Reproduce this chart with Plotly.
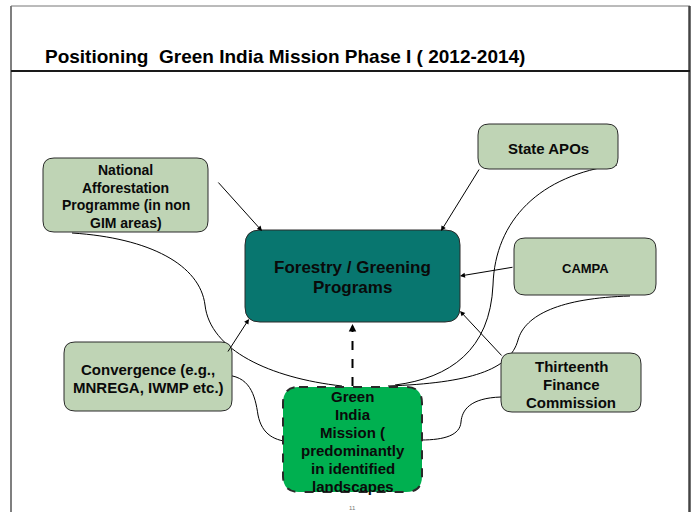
import plotly.graph_objects as go

# ---------------- data ----------------
TITLE = "Positioning  Green India Mission Phase I ( 2012-2014)"
PAGE_NUMBER = "11"

node_ids = ["na", "apo", "forestry", "campa", "conv", "tfc", "gim"]
node_labels = [
    "National<br>Afforestation<br>Programme (in non<br>GIM areas)",
    "State APOs",
    "Forestry / Greening<br>Programs",
    "CAMPA",
    "Convergence (e.g.,<br>MNREGA, IWMP etc.)",
    "Thirteenth<br>Finance<br>Commission",
    "Green<br>India<br>Mission (<br>predominantly<br>in identified<br>landscapes",
]
# straight arrows: source -> Forestry / Greening Programs
arrow_sources = ["na", "apo", "campa", "conv", "tfc"]
# curved connectors ending on the Green India Mission box
curve_sources = ["na", "apo", "campa", "conv", "tfc"]

# ---------------- layout / geometry (pixels) ----------------
W, H = 692, 512
box_x0 = [43, 478, 245, 514, 64, 501, 283]
box_x1 = [208, 618, 460, 656, 232, 641, 422]
box_y0 = [158, 124, 230, 238, 342, 353, 387]
box_y1 = [232, 169, 322, 295, 411, 412, 492]
box_r = [11, 11, 15, 11, 11, 11, 16]
SAGE, TEAL, GREEN = "#bfd4b5", "#08766f", "#00b050"
box_fill = [SAGE, SAGE, TEAL, SAGE, SAGE, SAGE, GREEN]
box_dash = ["solid"] * 6 + ["dash"]
font_size = [14, 15, 17, 13, 15, 15, 15]
line_gap = [17.5, 18, 20, 18, 18, 18, 18]

arrow_tail = {"na": (217, 181), "apo": (480, 168), "campa": (514, 267),
              "conv": (227, 353), "tfc": (503, 357)}
arrow_head = {"na": (262, 231), "apo": (441, 231), "campa": (460, 276),
              "conv": (249, 319), "tfc": (460, 311)}

curve_paths = {
    "na": "M 72 233 C 150 238, 200 265, 205 305 C 210 350, 270 378, 342 386",
    "apo": "M 617 165 C 540 175, 495 220, 493 285 C 490 350, 450 378, 395 385",
    "campa": "M 630 296 C 560 298, 525 315, 518 340 C 510 370, 470 383, 388 386",
    "conv": "M 223 375 C 250 375, 255 395, 258 415 C 262 435, 275 441, 292 442",
    "tfc": "M 501 397 C 470 398, 462 410, 461 422 C 460 435, 445 440, 421 440",
}

FONT = "Liberation Sans, Arial, Helvetica, sans-serif"


def rounded_rect(x0, y0, x1, y1, r):
    return (f"M {x0+r} {y0} L {x1-r} {y0} Q {x1} {y0} {x1} {y0+r} "
            f"L {x1} {y1-r} Q {x1} {y1} {x1-r} {y1} L {x0+r} {y1} "
            f"Q {x0} {y1} {x0} {y1-r} L {x0} {y0+r} Q {x0} {y0} {x0+r} {y0} Z")


fig = go.Figure()
fig.add_trace(go.Scatter(x=[0, W], y=[0, H], mode="markers",
                         marker=dict(opacity=0), hoverinfo="skip", showlegend=False))

shapes = []
annotations = []

# frame
shapes.append(dict(type="line", x0=11, y0=6, x1=11, y1=H + 5, xref="x", yref="y",
                   line=dict(color="#555555", width=1.5)))
shapes.append(dict(type="line", x0=11, y0=6, x1=690, y1=6, xref="x", yref="y",
                   line=dict(color="#777777", width=1)))
shapes.append(dict(type="line", x0=689.5, y0=6, x1=689.5, y1=H + 5, xref="x", yref="y",
                   line=dict(color="#444444", width=2.5)))
shapes.append(dict(type="line", x0=11, y0=71, x1=690, y1=71, xref="x", yref="y",
                   line=dict(color="#1a1a1a", width=2)))

annotations.append(dict(x=43, y=56, xref="x", yref="y", text=f"<b>{TITLE}</b>",
                        showarrow=False, xanchor="left", yanchor="middle",
                        font=dict(family=FONT, size=19, color="#000000")))

# curved connectors
for s in curve_sources:
    shapes.append(dict(type="path", path=curve_paths[s], xref="x", yref="y",
                       line=dict(color="#000000", width=1), layer="above"))

# boxes
for i, nid in enumerate(node_ids):
    shapes.append(dict(type="path",
                       path=rounded_rect(box_x0[i], box_y0[i], box_x1[i], box_y1[i], box_r[i]),
                       xref="x", yref="y", fillcolor=box_fill[i], layer="above",
                       line=dict(color="#2a2a2a", width=2 if box_dash[i] == "dash" else 1,
                                 dash=box_dash[i])))
    lines = node_labels[i].split("<br>")
    cx = (box_x0[i] + box_x1[i]) / 2
    cy = (box_y0[i] + box_y1[i]) / 2 + 1.5
    n = len(lines)
    for k, ln in enumerate(lines):
        annotations.append(dict(x=cx, y=cy + (k - (n - 1) / 2) * line_gap[i],
                                xref="x", yref="y", text=f"<b>{ln}</b>", showarrow=False,
                                xanchor="center", yanchor="middle",
                                font=dict(family=FONT, size=font_size[i], color="#0a0a0a")))

# straight arrows into Forestry box
for s in arrow_sources:
    (tx, ty), (hx, hy) = arrow_tail[s], arrow_head[s]
    annotations.append(dict(x=hx, y=hy, ax=tx, ay=ty, xref="x", yref="y",
                            axref="x", ayref="y", text="", showarrow=True,
                            arrowhead=2, arrowsize=1, arrowwidth=1, arrowcolor="#000000"))

# dashed arrow from GIM to Forestry
shapes.append(dict(type="line", x0=352.5, y0=386, x1=352.5, y1=328, xref="x", yref="y",
                   line=dict(color="#000000", width=2, dash="dash")))
annotations.append(dict(x=352.5, y=324, ax=352.5, ay=331, xref="x", yref="y",
                        axref="x", ayref="y", text="", showarrow=True,
                        arrowhead=2, arrowsize=1, arrowwidth=1.5, arrowcolor="#000000"))

annotations.append(dict(x=352, y=508, xref="x", yref="y", text=PAGE_NUMBER, showarrow=False,
                        yanchor="middle",
                        font=dict(family=FONT, size=6, color="#777777")))

fig.update_layout(
    width=W, height=H, autosize=False,
    margin=dict(l=0, r=0, t=0, b=0),
    paper_bgcolor="#ffffff", plot_bgcolor="#ffffff",
    xaxis=dict(range=[0, W], visible=False, fixedrange=True),
    yaxis=dict(range=[H, 0], visible=False, fixedrange=True),
    shapes=shapes, annotations=annotations, showlegend=False,
)

fig.write_html("out.html", config={"displayModeBar": False},
               post_script="document.body.style.margin='0';document.body.style.overflow='hidden';"
                           "document.documentElement.style.overflow='hidden';")
